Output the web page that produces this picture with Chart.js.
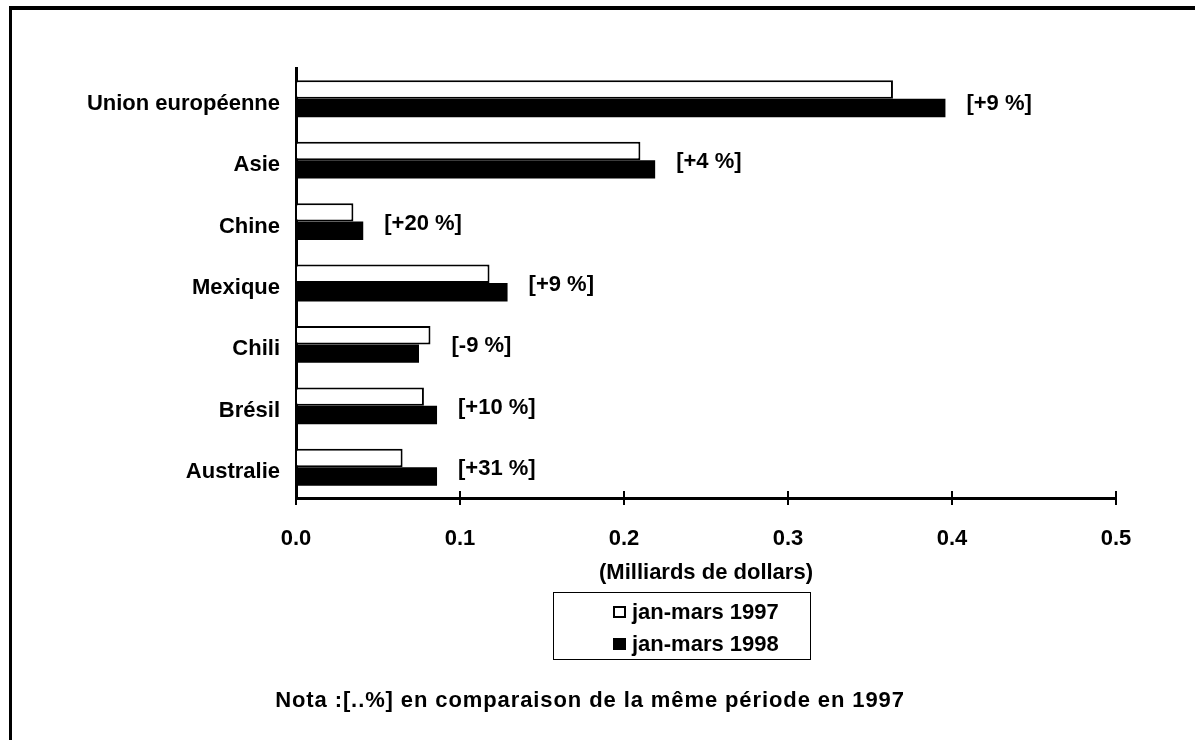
<!DOCTYPE html>
<html>
<head>
<meta charset="utf-8">
<script src="https://cdn.jsdelivr.net/npm/chart.js@4.4.1/dist/chart.umd.min.js"></script>
<style>
  html, body { margin: 0; padding: 0; background: #fff; }
  #wrap { width: 1195px; height: 740px; position: relative; }
</style>
</head>
<body>
<div id="wrap"><canvas id="chart"></canvas></div>
<script>
const categories = ['Union européenne', 'Asie', 'Chine', 'Mexique', 'Chili', 'Brésil', 'Australie'];
const values1997 = [0.364, 0.210, 0.035, 0.118, 0.082, 0.078, 0.065];
const values1998 = [0.396, 0.219, 0.041, 0.129, 0.075, 0.086, 0.086];
const changeLabels = ['[+9 %]', '[+4 %]', '[+20 %]', '[+9 %]', '[-9 %]', '[+10 %]', '[+31 %]'];
const seriesNames = ['jan-mars 1997', 'jan-mars 1998'];
const xMin = 0, xMax = 0.5, xStep = 0.1;
const axisTitle = '(Milliards de dollars)';
const noteText = 'Nota :[..%] en comparaison de la même période en 1997';

const FONT = "'Liberation Sans', Arial, sans-serif";
const fontSize = 22;

// frame, crossing ticks, % labels, legend box and note
const extras = {
    id: 'extras',
    beforeDraw(chart) {
        const ctx = chart.ctx;
        ctx.save();
        ctx.fillStyle = '#000';
        ctx.fillRect(9, 6, 1186, 4);
        ctx.fillRect(9, 6, 3, 734);
        ctx.restore();
    },
    afterDraw(chart) {
        const ctx = chart.ctx;
        const x = chart.scales.x;
        const y = chart.scales.y;
        const bottom = chart.chartArea.bottom;
        ctx.save();
        ctx.strokeStyle = '#000';
        ctx.lineWidth = 2;
        for (let v = xMin; v <= xMax + 1e-9; v += xStep) {
            const px = Math.round(x.getPixelForValue(v));
            ctx.beginPath();
            ctx.moveTo(px, bottom - 7);
            ctx.lineTo(px, bottom);
            ctx.stroke();
        }

        ctx.fillStyle = '#000';
        ctx.font = 'bold ' + fontSize + 'px ' + FONT;
        ctx.textAlign = 'left';
        ctx.textBaseline = 'middle';
        categories.forEach((c, i) => {
            const end = Math.max(values1997[i], values1998[i]);
            const dy = i === 0 ? 5 : 2;
            ctx.fillText(changeLabels[i], x.getPixelForValue(end) + 21, y.getPixelForValue(i) + dy);
        });

        // legend
        const ds = chart.data.datasets;
        ctx.lineWidth = 1;
        ctx.strokeRect(553.5, 592.5, 257, 67);
        ds.forEach((d, i) => {
            const cy = 612 + i * 32;
            ctx.fillStyle = d.backgroundColor;
            ctx.fillRect(613, cy - 6, 13, 12);
            ctx.lineWidth = 2;
            ctx.strokeStyle = '#000';
            ctx.strokeRect(614, cy - 5, 11, 10);
            ctx.fillStyle = '#000';
            ctx.textAlign = 'left';
            ctx.fillText(d.label, 632, cy + 1);
        });

        ctx.textAlign = 'center';
        ctx.letterSpacing = '0.9px';
        ctx.fillText(noteText, 590, 701);
        ctx.restore();
    }
};

new Chart(document.getElementById('chart'), {
    type: 'bar',
    data: {
        labels: categories,
        datasets: [
            {
                label: seriesNames[0],
                data: values1997,
                backgroundColor: '#ffffff',
                borderColor: '#000000',
                borderWidth: 2,
                borderSkipped: 'start',
                categoryPercentage: 0.6,
                barPercentage: 1.0
            },
            {
                label: seriesNames[1],
                data: values1998,
                backgroundColor: '#000000',
                borderWidth: 0,
                categoryPercentage: 0.6,
                barPercentage: 1.0
            }
        ]
    },
    options: {
        indexAxis: 'y',
        responsive: true,
        maintainAspectRatio: false,
        animation: false,
        events: [],
        layout: { padding: { top: 68, right: 79, left: 0, bottom: 0 } },
        plugins: {
            legend: { display: false },
            tooltip: { enabled: false }
        },
        scales: {
            x: {
                min: xMin,
                max: xMax,
                afterFit: (s) => { s.height = 242; },
                grid: { drawOnChartArea: false, drawTicks: true, tickLength: 7, lineWidth: 2, color: '#000' },
                border: { display: true, color: '#000', width: 3 },
                ticks: {
                    stepSize: xStep,
                    padding: 21,
                    color: '#000',
                    font: { family: FONT, size: fontSize, weight: 'bold' },
                    callback: (v) => Number(v).toFixed(1)
                },
                title: {
                    display: true,
                    text: axisTitle,
                    color: '#000',
                    font: { family: FONT, size: fontSize, weight: 'bold' },
                    padding: { top: 0, bottom: 154 }
                }
            },
            y: {
                afterFit: (s) => { s.width = 296; },
                grid: { display: false, drawTicks: false },
                border: { display: true, color: '#000', width: 3 },
                ticks: {
                    padding: 16,
                    labelOffset: 5,
                    color: '#000',
                    font: { family: FONT, size: fontSize, weight: 'bold' }
                }
            }
        }
    },
    plugins: [extras]
});
</script>
</body>
</html>
